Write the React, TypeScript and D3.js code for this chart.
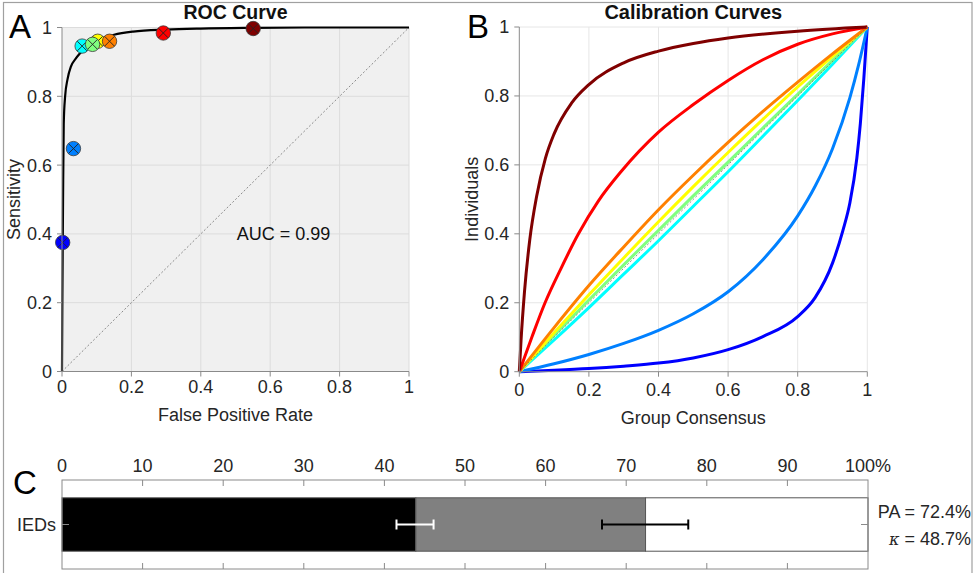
import React from "react";
import * as d3 from "d3";

// ---------- Panel A: ROC ----------
const rocFpr = [0, 0.001, 0.003, 0.005, 0.009, 0.016, 0.026, 0.04, 0.052, 0.066, 0.085, 0.11, 0.15, 0.205, 0.3, 0.4, 0.55, 0.7, 1];
const rocTpr = [0, 0.2, 0.5, 0.72, 0.8, 0.85, 0.887, 0.91, 0.925, 0.94, 0.955, 0.967, 0.979, 0.988, 0.994, 0.997, 0.999, 1, 1];

const raterColors = ["#0000ff", "#0080ff", "#00ffff", "#ffff00", "#80ff80", "#ff8000", "#ff0000", "#800000"];
const raterFpr = [0.002, 0.033, 0.058, 0.103, 0.088, 0.137, 0.292, 0.551];
const raterTpr = [0.375, 0.648, 0.946, 0.96, 0.951, 0.96, 0.984, 0.997];

const unitTicks = [0, 0.2, 0.4, 0.6, 0.8, 1];
const aucLabel = "AUC = 0.99";

// ---------- Panel B: calibration curves ----------
const calibColors = ["#0000ff", "#0080ff", "#00ffff", "#80ff80", "#ffff00", "#ff8000", "#ff0000", "#800000"];
const calibX = [
  [0, 0.1, 0.2, 0.3, 0.4, 0.5, 0.6, 0.7, 0.8, 0.85, 0.9, 0.93, 0.95, 0.97, 0.98, 0.99, 1],
  [0, 0.1, 0.2, 0.3, 0.4, 0.5, 0.6, 0.7, 0.8, 0.85, 0.9, 0.95, 0.975, 1],
  [0, 0.1, 0.2, 0.3, 0.4, 0.5, 0.6, 0.7, 0.8, 0.9, 1],
  [0, 0.1, 0.2, 0.3, 0.4, 0.5, 0.6, 0.7, 0.8, 0.9, 1],
  [0, 0.1, 0.2, 0.3, 0.4, 0.5, 0.6, 0.7, 0.8, 0.9, 1],
  [0, 0.1, 0.2, 0.3, 0.4, 0.5, 0.6, 0.7, 0.8, 0.9, 1],
  [0, 0.036, 0.074, 0.12, 0.17, 0.227, 0.292, 0.4, 0.5, 0.6, 0.7, 0.8, 0.9, 1],
  [0, 0.005, 0.015, 0.03, 0.05, 0.075, 0.1, 0.15, 0.2, 0.3, 0.4, 0.5, 0.6, 0.8, 1],
];
const calibY = [
  [0, 0.004, 0.009, 0.016, 0.025, 0.04, 0.064, 0.102, 0.16, 0.215, 0.315, 0.41, 0.49, 0.62, 0.72, 0.85, 1],
  [0, 0.023, 0.05, 0.082, 0.12, 0.168, 0.232, 0.325, 0.452, 0.538, 0.647, 0.795, 0.89, 1],
  [0, 0.092, 0.186, 0.283, 0.38, 0.48, 0.58, 0.683, 0.787, 0.892, 1],
  [0, 0.105, 0.208, 0.31, 0.41, 0.51, 0.608, 0.707, 0.805, 0.903, 1],
  [0, 0.113, 0.223, 0.33, 0.435, 0.537, 0.636, 0.732, 0.826, 0.915, 1],
  [0, 0.128, 0.25, 0.362, 0.47, 0.57, 0.665, 0.755, 0.84, 0.922, 1],
  [0, 0.1, 0.2, 0.3, 0.4, 0.495, 0.58, 0.695, 0.775, 0.845, 0.905, 0.95, 0.98, 1],
  [0, 0.091, 0.233, 0.382, 0.51, 0.619, 0.69, 0.779, 0.833, 0.896, 0.93, 0.952, 0.968, 0.988, 1],
];

// ---------- Panel C: agreement bar ----------
const barCategories = ["IEDs"];
const barEnds = [43.9, 72.4, 100];
const barFills = ["#000000", "#808080", "#ffffff"];
const errLow = [41.5, 67.0];
const errHigh = [46.1, 77.7];
const errColors = ["#ffffff", "#000000"];
const pctTicks = [0, 10, 20, 30, 40, 50, 60, 70, 80, 90, 100];
const paLabel = "PA = 72.4%";
const kappaValue = " = 48.7%";

const FONT = "'Liberation Sans', Arial, Helvetica, sans-serif";
const TXT = "#262626";
const AX = "#8a8a8a";

export default function App() {
  const xA = d3.scaleLinear().domain([0, 1]).range([62, 409]);
  const yA = d3.scaleLinear().domain([0, 1]).range([371.5, 27.5]);
  const xB = d3.scaleLinear().domain([0, 1]).range([519.3, 867.3]);
  const yB = d3.scaleLinear().domain([0, 1]).range([371.7, 27]);
  const xC = d3.scaleLinear().domain([0, 100]).range([62, 868]);
  const yC = d3.scaleBand().domain(barCategories).range([480, 569]).padding(0.25);

  const rocLine = d3
    .line<number>()
    .x((_, i) => xA(rocFpr[i]))
    .y((d) => yA(d))
    .curve(d3.curveMonotoneX)(rocTpr) as string;

  const calibPaths = calibX.map((xs, k) =>
    d3
      .line<number>()
      .x((d) => xB(d))
      .y((_, i) => yB(calibY[k][i]))
      .curve(d3.curveMonotoneX)(xs) as string
  );

  const barY = yC("IEDs") as number;
  const barH = yC.bandwidth();
  const barMid = barY + barH / 2;

  const r = 7.2;
  const xr = 4.8;

  return (
    <svg
      width={975}
      height={573}
      style={{ position: "absolute", left: 0, top: 0, background: "#fff" }}
      fontFamily={FONT}
    >
      <rect x={0} y={0} width={975} height={573} fill="#fff" />
      <rect x={3.5} y={2.5} width={968.5} height={580} fill="none" stroke="#a0a0a0" strokeWidth={1.2} />

      {/* ================= Panel A ================= */}
      <rect x={xA(0)} y={yA(1)} width={xA(1) - xA(0)} height={yA(0) - yA(1)} fill="#f0f0f0" />
      {unitTicks.slice(1).map((t) => (
        <g key={"ga" + t}>
          <line x1={xA(t)} x2={xA(t)} y1={yA(0)} y2={yA(1)} stroke="#dcdcdc" strokeWidth={1} />
          <line x1={xA(0)} x2={xA(1)} y1={yA(t)} y2={yA(t)} stroke="#dcdcdc" strokeWidth={1} />
        </g>
      ))}
      <line x1={xA(0)} y1={yA(0)} x2={xA(1)} y2={yA(1)} stroke="#707070" strokeWidth={0.8} strokeDasharray="2,2" />
      <path d={rocLine} fill="none" stroke="#000" strokeWidth={2.2} />
      {raterFpr.map((f, i) => {
        const cx = xA(f);
        const cy = yA(raterTpr[i]);
        return (
          <g key={"m" + i}>
            <circle cx={cx} cy={cy} r={r} fill={raterColors[i]} stroke="#3a3a3a" strokeWidth={0.8} />
            <line x1={cx - xr} y1={cy - xr} x2={cx + xr} y2={cy + xr} stroke="#222" strokeWidth={0.9} />
            <line x1={cx - xr} y1={cy + xr} x2={cx + xr} y2={cy - xr} stroke="#222" strokeWidth={0.9} />
          </g>
        );
      })}
      {/* axes */}
      <line x1={xA(0)} x2={xA(0)} y1={yA(0)} y2={yA(1)} stroke={AX} strokeWidth={1} />
      <line x1={xA(0)} x2={xA(1)} y1={yA(0)} y2={yA(0)} stroke={AX} strokeWidth={1} />
      {unitTicks.map((t) => (
        <g key={"ta" + t}>
          <line x1={xA(0) - 5} x2={xA(0)} y1={yA(t)} y2={yA(t)} stroke={AX} />
          <line x1={xA(t)} x2={xA(t)} y1={yA(0)} y2={yA(0) + 5} stroke={AX} />
          <text x={xA(0) - 10} y={yA(t)} dy="0.36em" textAnchor="end" fontSize={18} fill={TXT}>
            {d3.format("~g")(t)}
          </text>
          <text x={xA(t)} y={393} textAnchor="middle" fontSize={18} fill={TXT}>
            {d3.format("~g")(t)}
          </text>
        </g>
      ))}
      <text x={xA(0.5)} y={421} textAnchor="middle" fontSize={18} fill={TXT}>False Positive Rate</text>
      <text transform={`translate(20,${yA(0.5)}) rotate(-90)`} textAnchor="middle" fontSize={18} fill={TXT}>Sensitivity</text>
      <text x={xA(0.5)} y={19} textAnchor="middle" fontSize={19.5} fontWeight="bold" fill="#111">ROC Curve</text>
      <text x={xA(0.5) + 48} y={yA(0.4)} dy="0.36em" textAnchor="middle" fontSize={18} fill="#111">{aucLabel}</text>
      <text x={9} y={38} fontSize={33} fill="#000">A</text>

      {/* ================= Panel B ================= */}
      {unitTicks.slice(1).map((t) => (
        <g key={"gb" + t}>
          <line x1={xB(t)} x2={xB(t)} y1={yB(0)} y2={yB(1)} stroke="#e6e6e6" strokeWidth={1} />
          <line x1={xB(0)} x2={xB(1)} y1={yB(t)} y2={yB(t)} stroke="#e6e6e6" strokeWidth={1} />
        </g>
      ))}
      {calibPaths.map((p, k) => (
        <path key={"c" + k} d={p} fill="none" stroke={calibColors[k]} strokeWidth={3} strokeLinejoin="round" />
      ))}
      <line x1={xB(0)} y1={yB(0)} x2={xB(1)} y2={yB(1)} stroke="#707070" strokeWidth={0.8} strokeDasharray="2,2" />
      <line x1={xB(0)} x2={xB(0)} y1={yB(0)} y2={yB(1)} stroke={AX} strokeWidth={1} />
      <line x1={xB(0)} x2={xB(1)} y1={yB(0)} y2={yB(0)} stroke={AX} strokeWidth={1} />
      {unitTicks.map((t) => (
        <g key={"tb" + t}>
          <line x1={xB(0) - 5} x2={xB(0)} y1={yB(t)} y2={yB(t)} stroke={AX} />
          <line x1={xB(t)} x2={xB(t)} y1={yB(0)} y2={yB(0) + 5} stroke={AX} />
          <text x={xB(0) - 10} y={yB(t)} dy="0.36em" textAnchor="end" fontSize={18} fill={TXT}>
            {d3.format("~g")(t)}
          </text>
          <text x={xB(t)} y={396} textAnchor="middle" fontSize={18} fill={TXT}>
            {d3.format("~g")(t)}
          </text>
        </g>
      ))}
      <text x={xB(0.5)} y={424} textAnchor="middle" fontSize={18} fill={TXT}>Group Consensus</text>
      <text transform={`translate(478,${yB(0.5)}) rotate(-90)`} textAnchor="middle" fontSize={18} fill={TXT}>Individuals</text>
      <text x={xB(0.5)} y={19} textAnchor="middle" fontSize={20} fontWeight="bold" fill="#111">Calibration Curves</text>
      <text x={467} y={38} fontSize={33} fill="#000">B</text>

      {/* ================= Panel C ================= */}
      <rect x={xC(0)} y={480} width={xC(100) - xC(0)} height={89} fill="#fff" />
      {barEnds.map((e, i) => {
        const start = i === 0 ? 0 : barEnds[i - 1];
        return (
          <rect
            key={"b" + i}
            x={xC(start)}
            y={barY}
            width={xC(e) - xC(start)}
            height={barH}
            fill={barFills[i]}
            stroke="#555"
            strokeWidth={1}
          />
        );
      })}
      {errLow.map((lo, i) => (
        <g key={"e" + i} stroke={errColors[i]} strokeWidth={2}>
          <line x1={xC(lo)} x2={xC(errHigh[i])} y1={barMid} y2={barMid} />
          <line x1={xC(lo)} x2={xC(lo)} y1={barMid - 5} y2={barMid + 5} />
          <line x1={xC(errHigh[i])} x2={xC(errHigh[i])} y1={barMid - 5} y2={barMid + 5} />
        </g>
      ))}
      <rect x={xC(0)} y={480} width={xC(100) - xC(0)} height={89} fill="none" stroke={AX} strokeWidth={1} />
      {pctTicks.map((t) => (
        <g key={"tc" + t}>
          {t > 0 && t < 100 && (
            <>
              <line x1={xC(t)} x2={xC(t)} y1={480} y2={486} stroke={AX} />
              <line x1={xC(t)} x2={xC(t)} y1={563} y2={569} stroke={AX} />
            </>
          )}
          <text x={xC(t)} y={471.5} textAnchor="middle" fontSize={18} fill={TXT}>
            {t === 100 ? "100%" : String(t)}
          </text>
        </g>
      ))}
      <line x1={xC(0)} x2={xC(0) + 7} y1={barMid} y2={barMid} stroke={AX} />
      <line x1={xC(100) - 7} x2={xC(100)} y1={barMid} y2={barMid} stroke={AX} />
      <text x={56} y={barMid} dy="0.36em" textAnchor="end" fontSize={18} fill={TXT}>IEDs</text>
      <text x={971} y={512} dy="0.36em" textAnchor="end" fontSize={18} fill={TXT}>{paLabel}</text>
      <text x={971} y={539} dy="0.36em" textAnchor="end" fontSize={18} fill={TXT}>
        <tspan fontStyle="italic" fontFamily="'DejaVu Serif', serif" fontSize={16}>κ</tspan>
        {kappaValue}
      </text>
      <text x={13} y={494} fontSize={33} fill="#000">C</text>
    </svg>
  );
}
